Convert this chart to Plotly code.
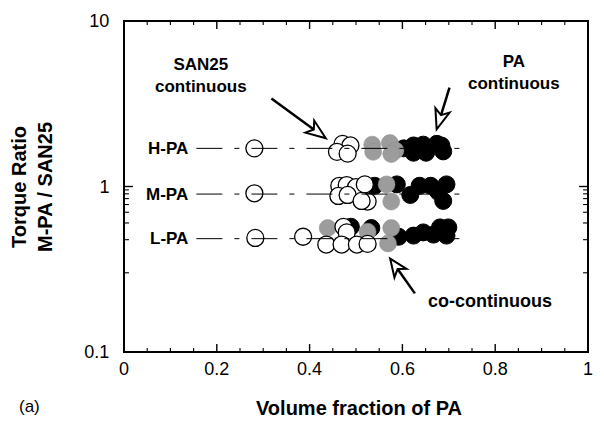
import math
import plotly.graph_objects as go

# ---------------- data ----------------
row_names = ["H-PA", "M-PA", "L-PA"]
row_levels = [1.70, 0.90, 0.484]
line_x = [0.156, 0.731]

open_x_H = [0.281, 0.471, 0.488, 0.459, 0.482]
open_y_H = [1.70, 1.81, 1.77, 1.62, 1.58]
gray_x_H = [0.535, 0.537, 0.573, 0.585, 0.576]
gray_y_H = [1.79, 1.62, 1.83, 1.65, 1.57]
black_x_H = [0.603, 0.624, 0.624, 0.645, 0.651, 0.674, 0.688, 0.684]
black_y_H = [1.70, 1.77, 1.60, 1.79, 1.60, 1.81, 1.63, 1.77]

open_x_M = [0.281, 0.464, 0.480, 0.500, 0.519, 0.462, 0.482, 0.525, 0.512]
open_y_M = [0.91, 1.01, 1.02, 0.99, 1.03, 0.877, 0.889, 0.811, 0.818]
gray_x_M = [0.566, 0.576]
gray_y_M = [1.03, 0.811]
black_x_M = [0.540, 0.588, 0.617, 0.637, 0.661, 0.677, 0.695, 0.688]
black_y_M = [1.01, 1.03, 0.889, 1.01, 1.01, 0.93, 1.03, 0.818]

open_x_L = [0.283, 0.386, 0.473, 0.480, 0.436, 0.469, 0.502, 0.525]
open_y_L = [0.489, 0.497, 0.571, 0.528, 0.446, 0.446, 0.446, 0.450]
gray_x_L = [0.439, 0.525, 0.576, 0.569]
gray_y_L = [0.561, 0.533, 0.561, 0.453]
black_x_L = [0.489, 0.533, 0.592, 0.624, 0.645, 0.667, 0.681, 0.699, 0.695]
black_y_L = [0.571, 0.561, 0.497, 0.505, 0.528, 0.512, 0.566, 0.566, 0.505]

x_tickvals = [0, 0.2, 0.4, 0.6, 0.8, 1]
x_minor = [round(i * 0.05, 2) for i in range(21) if i % 4]
y_tickvals = [0.1, 1, 10]
y_minor = [v * d for d in (0.1, 1) for v in range(2, 10)]

# ---------------- layout geometry (pixels) ----------------
W, H = 604, 437
L, R, T, B = 124, 593, 19, 352
FONT = "Liberation Sans, Arial, sans-serif"


def px(x, y):
    return (x - L) / (R - L), (B - y) / (B - T)


fig = go.Figure()

gray_col = "#9c9c9c"
for bx, by, gx, gy, ox, oy in [
    (black_x_H, black_y_H, gray_x_H, gray_y_H, open_x_H, open_y_H),
    (black_x_M, black_y_M, gray_x_M, gray_y_M, open_x_M, open_y_M),
    (black_x_L, black_y_L, gray_x_L, gray_y_L, open_x_L, open_y_L),
]:
    fig.add_trace(go.Scatter(x=bx, y=by, mode="markers",
                             marker=dict(size=17, color="black", line=dict(color="black", width=1))))
    fig.add_trace(go.Scatter(x=gx, y=gy, mode="markers",
                             marker=dict(size=17, color=gray_col, line=dict(color="#8a8a8a", width=0.5))))
    fig.add_trace(go.Scatter(x=ox, y=oy, mode="markers",
                             marker=dict(size=17, color="white", line=dict(color="black", width=1.3))))

for lev in row_levels:
    fig.add_trace(go.Scatter(x=line_x, y=[lev, lev], mode="lines",
                             line=dict(color="black", width=1, dash="26px,12px,5px,12px")))

annotations = []
for name, lev in zip(row_names, row_levels):
    annotations.append(dict(x=0.142, y=math.log10(lev), xref="x", yref="y", text="<b>%s</b>" % name,
                            showarrow=False, xanchor="right", yanchor="middle",
                            font=dict(size=17, family=FONT, color="black")))


def txt(x, y, s, size=17, bold=True, anchor="center"):
    xp, yp = px(x, y)
    annotations.append(dict(x=xp, y=yp, xref="paper", yref="paper",
                            text=("<b>%s</b>" % s) if bold else s, showarrow=False,
                            xanchor=anchor, yanchor="middle",
                            font=dict(size=size, family=FONT, color="black")))


txt(202, 74, "SAN25<br>continuous")
txt(518, 71, "PA<br>continuous")
txt(494, 301, "co-continuous", size=18)
txt(362, 408, "Volume fraction of PA", size=20)
txt(28, 407, "(a)", size=17, bold=False)

xp, yp = px(31, 186)
annotations.append(dict(x=xp, y=yp, xref="paper", yref="paper",
                        text="<b>Torque Ratio<br>M-PA / SAN25</b>", showarrow=False,
                        textangle=-90, xanchor="center", yanchor="middle",
                        font=dict(size=20, family=FONT, color="black")))

# frame
shapes = [dict(type="rect", xref="paper", yref="paper", x0=0, y0=0, x1=1, y1=1,
               line=dict(color="black", width=2), layer="above")]

# tick marks (inside, on all four sides), placed through the axes' own scales
PW, PH = R - L, B - T
for vals, ln, wd in [(x_tickvals, 8, 1.4), (x_minor, 4, 1.1)]:
    for v in vals:
        for y0, y1 in [(0, ln / PH), (1, 1 - ln / PH)]:
            shapes.append(dict(type="line", xref="x", yref="paper", x0=v, x1=v, y0=y0, y1=y1,
                               line=dict(color="black", width=wd)))
for vals, ln, wd in [(y_tickvals, 9, 1.4), (y_minor, 5, 1.1)]:
    for v in vals:
        lv = math.log10(v)
        for x0, x1 in [(0, ln / PW), (1, 1 - ln / PW)]:
            shapes.append(dict(type="line", xref="paper", yref="y", x0=x0, x1=x1, y0=lv, y1=lv,
                               line=dict(color="black", width=wd)))


def arrow(tx, ty, hx, hy, hl=20, hw=7.5, notch=5):
    dx, dy = hx - tx, hy - ty
    n = math.hypot(dx, dy)
    ux, uy = dx / n, dy / n
    pxv, pyv = -uy, ux
    bx, by = hx - hl * ux, hy - hl * uy
    c1 = (bx + hw * pxv, by + hw * pyv)
    c2 = (bx - hw * pxv, by - hw * pyv)
    nt = (bx + notch * ux, by + notch * uy)
    p0 = px(tx, ty)
    p1 = px(*nt)
    shapes.append(dict(type="line", xref="paper", yref="paper", x0=p0[0], y0=p0[1],
                       x1=p1[0], y1=p1[1], line=dict(color="black", width=2.5)))
    pts = [px(hx, hy), px(*c1), px(*nt), px(*c2)]
    path = "M " + " L ".join("%f,%f" % p for p in pts) + " Z"
    shapes.append(dict(type="path", xref="paper", yref="paper", path=path,
                       fillcolor="white", line=dict(color="black", width=2)))


arrow(273, 97, 328, 137)
arrow(453, 86, 440, 128)
arrow(418, 293, 393, 258, hl=18)

fig.update_layout(
    width=W, height=H,
    margin=dict(l=L, r=W - R, t=T, b=H - B),
    plot_bgcolor="white",
    font=dict(family=FONT, size=18, color="black"),
    showlegend=False,
    annotations=annotations,
    shapes=shapes,
    xaxis=dict(range=[0, 1], tickmode="array", tickvals=x_tickvals, showline=True,
               linecolor="black", mirror=True, ticks="", showgrid=False, zeroline=False,
               tickprefix="<b>", ticksuffix="</b>"),
    yaxis=dict(type="log", range=[-1, 1], tickmode="array", tickvals=y_tickvals, showline=True,
               linecolor="black", mirror=True, ticks="", showgrid=False, zeroline=False,
               tickprefix="<b>", ticksuffix="</b>", ticklabelstandoff=10),
)

fig.write_html("out.html")
